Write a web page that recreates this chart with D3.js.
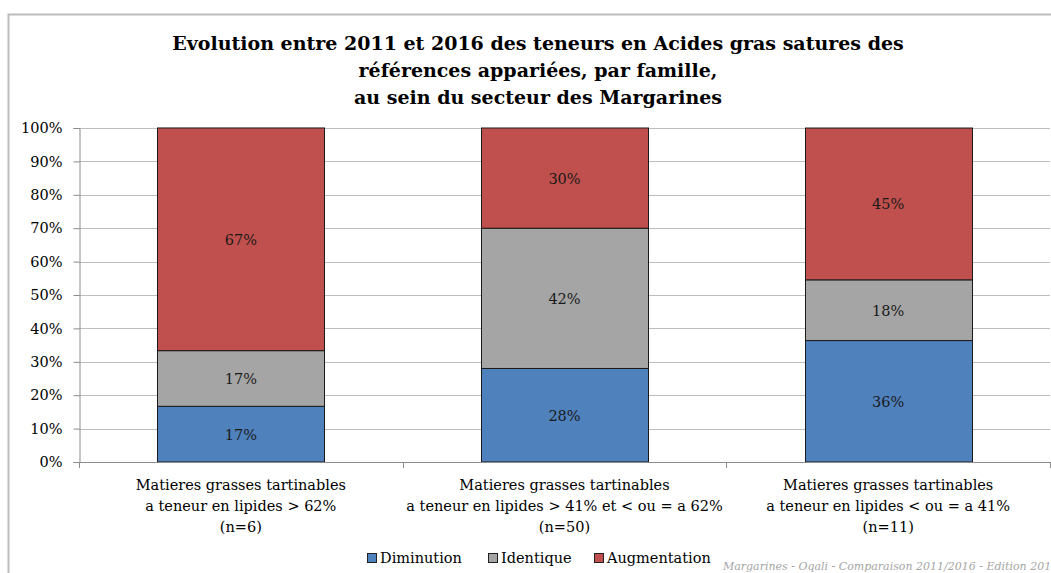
<!DOCTYPE html>
<html><head><meta charset="utf-8">
<script src="https://cdn.jsdelivr.net/npm/d3@7"></script>
<style>
html,body{margin:0;padding:0;background:#fff;}
svg{display:block;}
text{font-family:"DejaVu Serif",serif;}
</style></head>
<body>
<svg id="chart" width="1051" height="573"></svg>
<script>
const titleLines = ["Evolution entre 2011 et 2016 des teneurs en Acides gras satures des",
  "références appariées, par famille,",
  "au sein du secteur des Margarines"];
const categories = [
  ["Matieres grasses tartinables", "a teneur en lipides > 62%", "(n=6)"],
  ["Matieres grasses tartinables", "a teneur en lipides > 41% et < ou = a 62%", "(n=50)"],
  ["Matieres grasses tartinables", "a teneur en lipides < ou = a 41%", "(n=11)"]
];
const seriesNames = ["Diminution", "Identique", "Augmentation"];
const diminution = [16.67, 28, 36.36];
const identique = [16.67, 42, 18.18];
const augmentation = [66.67, 30, 45.45];
const yTicks = [0, 10, 20, 30, 40, 50, 60, 70, 80, 90, 100];
const footnote = "Margarines - Oqali - Comparaison 2011/2016 - Edition 2017";
const colors = ["#4f81bd", "#a5a5a5", "#c0504d"];

const svg = d3.select("#chart");
// outer frame
svg.append("rect").attr("x", 8.5).attr("y", 14.5).attr("width", 1100).attr("height", 600)
  .attr("fill", "#fff").attr("stroke", "#bcbcbc").attr("stroke-width", 2);

const pLeft = 79, pRight = 1050, pTop = 128, pBottom = 462;
const x = d3.scaleBand().domain(d3.range(categories.length)).range([pLeft, pRight]).paddingInner(0.484).paddingOuter(0.242);
const xOuter = d3.scaleBand().domain(d3.range(categories.length)).range([pLeft, pRight]);
const y = d3.scaleLinear().domain([0, 100]).range([pBottom, pTop]);

// title
const title = svg.append("text").attr("text-anchor", "middle")
  .attr("font-weight", "bold").attr("font-size", 19).attr("fill", "#000");
titleLines.forEach((t, i) => title.append("tspan").attr("x", 538).attr("y", 50 + i * 27).text(t));

// gridlines
svg.append("g").selectAll("line").data(yTicks.filter(d => d > 0)).join("line")
  .attr("x1", pLeft).attr("x2", pRight).attr("y1", d => Math.round(y(d)) + 0.5).attr("y2", d => Math.round(y(d)) + 0.5)
  .attr("stroke", "#bdbdbd").attr("stroke-width", 1);

// y axis
const yAxis = svg.append("g").attr("transform", `translate(${pLeft + 0.5},0)`)
  .call(d3.axisLeft(y).tickValues(yTicks).tickSize(6).tickPadding(11).tickFormat(d => d + "%"));
yAxis.select(".domain").attr("stroke", "#8c8c8c");
yAxis.selectAll(".tick line").attr("stroke", "#8c8c8c");
yAxis.selectAll(".tick text").attr("font-size", 14.5).attr("fill", "#000")
  .attr("font-family", "DejaVu Serif, serif");

// stacked bars
const rows = categories.map((c, i) => ({ i, Diminution: diminution[i], Identique: identique[i], Augmentation: augmentation[i] }));
const stack = d3.stack().keys(seriesNames)(rows);
const layers = svg.append("g").selectAll("g").data(stack).join("g").attr("fill", (d, k) => colors[k]);
layers.selectAll("rect").data(d => d).join("rect")
  .attr("x", d => Math.round(x(d.data.i)) + 0.5)
  .attr("width", Math.round(x.bandwidth()))
  .attr("y", d => y(d[1]))
  .attr("height", d => y(d[0]) - y(d[1]))
  .attr("stroke", "#1a1a1a").attr("stroke-width", 1);
layers.selectAll("text").data(d => d).join("text")
  .attr("x", d => x(d.data.i) + x.bandwidth() / 2)
  .attr("y", d => (y(d[0]) + y(d[1])) / 2 + 5.5)
  .attr("text-anchor", "middle").attr("font-size", 14.5).attr("fill", "#1a1a1a")
  .text(d => Math.round(d[1] - d[0]) + "%");

// x axis
const xAxisG = svg.append("g");
xAxisG.append("line").attr("x1", pLeft).attr("x2", pRight).attr("y1", pBottom + 0.5).attr("y2", pBottom + 0.5)
  .attr("stroke", "#8c8c8c");
xAxisG.selectAll("line.tk").data(d3.range(categories.length + 1)).join("line").attr("class", "tk")
  .attr("x1", d => Math.round(pLeft + d * xOuter.step()) + 0.5).attr("x2", d => Math.round(pLeft + d * xOuter.step()) + 0.5)
  .attr("y1", pBottom).attr("y2", pBottom + 6).attr("stroke", "#8c8c8c");
categories.forEach((lines, i) => {
  const t = xAxisG.append("text").attr("text-anchor", "middle").attr("font-size", 14.5).attr("fill", "#000");
  lines.forEach((l, j) => t.append("tspan").attr("x", xOuter(i) + xOuter.bandwidth() / 2).attr("y", 490 + j * 21).text(l));
});

// legend
const legendX = [367, 488, 594];
const lg = svg.append("g").selectAll("g").data(seriesNames).join("g")
  .attr("transform", (d, k) => `translate(${legendX[k]},0)`);
lg.append("rect").attr("x", 0.5).attr("y", 553.5).attr("width", 9).attr("height", 9)
  .attr("fill", (d, k) => colors[k]).attr("stroke", "#222").attr("stroke-width", 1);
lg.append("text").attr("x", 13).attr("y", 563).attr("font-size", 14.5).attr("fill", "#000").text(d => d);

// footnote
svg.append("text").attr("x", 723).attr("y", 570).attr("font-size", 11).attr("font-style", "italic")
  .attr("fill", "#a6a6a6").text(footnote);
</script>
</body></html>
